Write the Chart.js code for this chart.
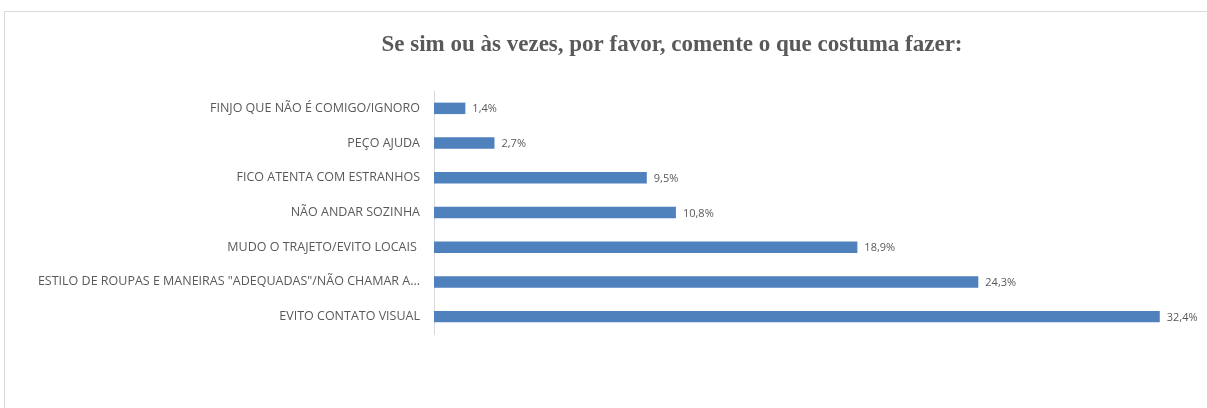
<!DOCTYPE html>
<html><head><meta charset="utf-8">
<script src="https://cdn.jsdelivr.net/npm/chart.js@4"></script>
<style>html,body{margin:0;padding:0;background:#fff}#wrap{width:1207px;height:408px;position:relative}</style>
</head><body><div id="wrap"><canvas id="c"></canvas></div>
<script>
const categories = [
  "FINJO QUE NÃO É COMIGO/IGNORO",
  "PEÇO AJUDA",
  "FICO ATENTA COM ESTRANHOS",
  "NÃO ANDAR SOZINHA",
  "MUDO O TRAJETO/EVITO LOCAIS ",
  "ESTILO DE ROUPAS E MANEIRAS \"ADEQUADAS\"/NÃO CHAMAR A...",
  "EVITO CONTATO VISUAL"
];
const values = [1.4, 2.7, 9.5, 10.8, 18.9, 24.3, 32.4];
const valueLabels = ["1,4%", "2,7%", "9,5%", "10,8%", "18,9%", "24,3%", "32,4%"];
const titleText = "Se sim ou às vezes, por favor, comente o que costuma fazer:";

const frame = {
  id: 'frame',
  beforeDraw(chart) {
    const ctx = chart.ctx;
    ctx.save();
    ctx.strokeStyle = '#d9d9d9';
    ctx.lineWidth = 1;
    ctx.strokeRect(4.5, 11.5, chart.width + 10, chart.height + 10);
    ctx.fillStyle = '#595959';
    ctx.font = 'bold 23px "Liberation Serif", serif';
    ctx.textAlign = 'center';
    ctx.textBaseline = 'middle';
    ctx.fillText(titleText, 672, 45);
    ctx.restore();
  }
};
const dataLabels = {
  id: 'dataLabels',
  afterDatasetsDraw(chart) {
    const ctx = chart.ctx;
    const meta = chart.getDatasetMeta(0);
    ctx.save();
    ctx.fillStyle = '#595959';
    ctx.font = '11px "Open Sans", sans-serif';
    ctx.textBaseline = 'middle';
    ctx.textAlign = 'left';
    meta.data.forEach((bar, i) => {
      ctx.fillText(valueLabels[i], bar.x + 7, bar.y + 1);
    });
    ctx.restore();
  }
};

new Chart(document.getElementById('c'), {
  type: 'bar',
  data: {
    labels: categories,
    datasets: [{
      data: values,
      backgroundColor: '#4f81bd',
      borderWidth: 0,
      barPercentage: 0.33,
      categoryPercentage: 1
    }]
  },
  options: {
    indexAxis: 'y',
    responsive: true,
    maintainAspectRatio: false,
    animation: false,
    layout: { padding: { top: 91, bottom: 74, left: 10, right: 17 } },
    plugins: {
      legend: { display: false },
      tooltip: { enabled: false },
      title: { display: false }
    },
    scales: {
      x: { display: false, min: 0, max: 33.75 },
      y: {
        grid: { display: false, drawTicks: false },
        border: { display: true, color: '#d9d9d9' },
        ticks: { color: '#595959', padding: 14, font: { family: '"Open Sans", sans-serif', size: 12.5 } },
        afterFit(scale) { scale.width = 424; }
      }
    }
  },
  plugins: [frame, dataLabels]
});
</script></body></html>
